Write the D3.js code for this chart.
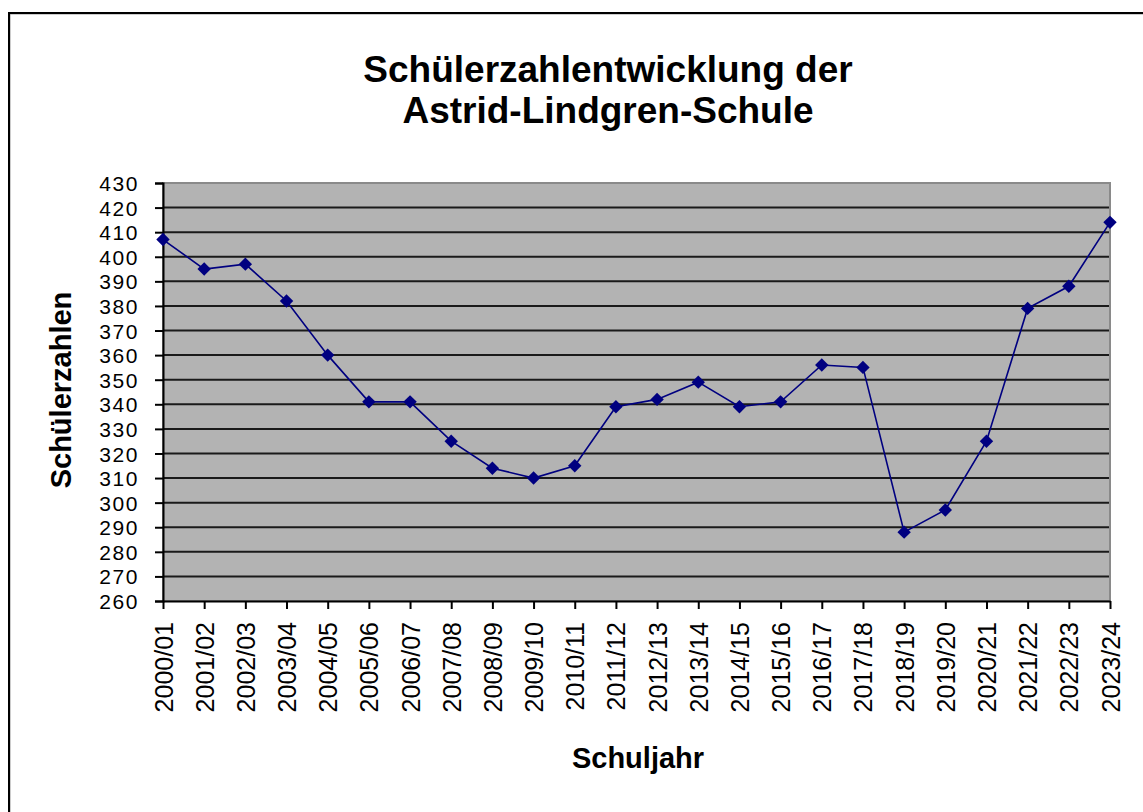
<!DOCTYPE html>
<html lang="de">
<head>
<meta charset="UTF-8">
<title>Schülerzahlentwicklung</title>
<script src="https://d3js.org/d3.v7.min.js"></script>
<style>
  body { margin: 0; background: #fff; }
  svg { display: block; font-family: Arial, "Liberation Sans", sans-serif; }
</style>
</head>
<body>
<script>
const years = ["2000/01","2001/02","2002/03","2003/04","2004/05","2005/06","2006/07","2007/08",
  "2008/09","2009/10","2010/11","2011/12","2012/13","2013/14","2014/15","2015/16","2016/17",
  "2017/18","2018/19","2019/20","2020/21","2021/22","2022/23","2023/24"];
const pupils = [407, 395, 397, 382, 360, 341, 341, 325, 314, 310, 315, 339, 342, 349, 339, 341,
  356, 355, 288, 297, 325, 379, 388, 414];
const yTicks = [260,270,280,290,300,310,320,330,340,350,360,370,380,390,400,410,420,430];
const titleLines = ["Schülerzahlentwicklung der", "Astrid-Lindgren-Schule"];

const width = 1143, height = 812;
const plotLeft = 163, plotRight = 1110, plotTop = 183, plotBottom = 601;

const svg = d3.select("body").append("svg")
    .attr("width", width)
    .attr("height", height);

// outer chart frame (cut off at right and bottom)
svg.append("rect")
    .attr("x", 10).attr("y", 14)
    .attr("width", width + 20).attr("height", height + 20)
    .attr("fill", "none").attr("stroke", "#999").attr("stroke-width", 1);
svg.append("rect")
    .attr("x", 9).attr("y", 13)
    .attr("width", width + 20).attr("height", height + 20)
    .attr("fill", "none").attr("stroke", "#000").attr("stroke-width", 2);

const x = d3.scalePoint().domain(years).range([plotLeft, plotRight]).padding(0);
const y = d3.scaleLinear().domain([260, 430]).range([plotBottom, plotTop]);

// plot area
svg.append("rect")
    .attr("x", plotLeft).attr("y", plotTop)
    .attr("width", plotRight - plotLeft).attr("height", plotBottom - plotTop)
    .attr("fill", "#b3b3b3")
    .attr("stroke", "#8a8a8a").attr("stroke-width", 2);

// gridlines
svg.append("g")
    .selectAll("line")
    .data(yTicks.slice(1, -1))
    .join("line")
    .attr("x1", plotLeft).attr("x2", plotRight - 1)
    .attr("y1", d => y(d)).attr("y2", d => y(d))
    .attr("stroke", "#1a1a1a").attr("stroke-width", 2);

// y axis - labels packed tightly like the original
const yAxis = svg.append("g")
    .attr("transform", `translate(${plotLeft},0)`)
    .call(d3.axisLeft(y).tickValues(yTicks).tickSize(8).tickPadding(16).tickFormat(d3.format("d")));
yAxis.select(".domain").attr("stroke", "#000").attr("stroke-width", 2);
yAxis.selectAll(".tick line").attr("stroke", "#000").attr("stroke-width", 2);
yAxis.selectAll("text")
    .attr("font-size", 21).attr("letter-spacing", 1.6)
    .attr("fill", "#000").attr("dy", "0.36em");

// x axis
const xAxis = svg.append("g")
    .attr("transform", `translate(0,${plotBottom})`)
    .call(d3.axisBottom(x).tickSize(8).tickSizeOuter(0));
xAxis.select(".domain").attr("stroke", "#000").attr("stroke-width", 2);
xAxis.selectAll(".tick line").attr("stroke", "#000").attr("stroke-width", 2);
xAxis.selectAll("text")
    .attr("font-size", 25).attr("fill", "#000")
    .attr("text-anchor", "end")
    .attr("transform", "rotate(-90)")
    .attr("x", -21).attr("y", 0).attr("dy", "0.36em");

// series
svg.append("path")
    .datum(pupils)
    .attr("fill", "none")
    .attr("stroke", "#000080").attr("stroke-width", 1.6)
    .attr("d", d3.line().x((d, i) => x(years[i])).y(d => y(d)));

svg.append("g")
    .selectAll("path")
    .data(pupils)
    .join("path")
    .attr("d", d3.symbol(d3.symbolSquare, 90))
    .attr("transform", (d, i) => `translate(${x(years[i])},${y(d)}) rotate(45)`)
    .attr("fill", "#000080");

// title
svg.append("text")
    .attr("text-anchor", "middle")
    .attr("font-size", 37).attr("font-weight", "bold")
    .selectAll("tspan")
    .data(titleLines)
    .join("tspan")
    .attr("x", 608)
    .attr("y", (d, i) => 82 + i * 41)
    .text(d => d);

// axis titles
svg.append("text")
    .attr("transform", "translate(71,390) rotate(-90)")
    .attr("text-anchor", "middle")
    .attr("font-size", 29).attr("font-weight", "bold")
    .text("Schülerzahlen");

svg.append("text")
    .attr("x", 638).attr("y", 768)
    .attr("text-anchor", "middle")
    .attr("font-size", 29).attr("font-weight", "bold")
    .text("Schuljahr");
</script>
</body>
</html>
